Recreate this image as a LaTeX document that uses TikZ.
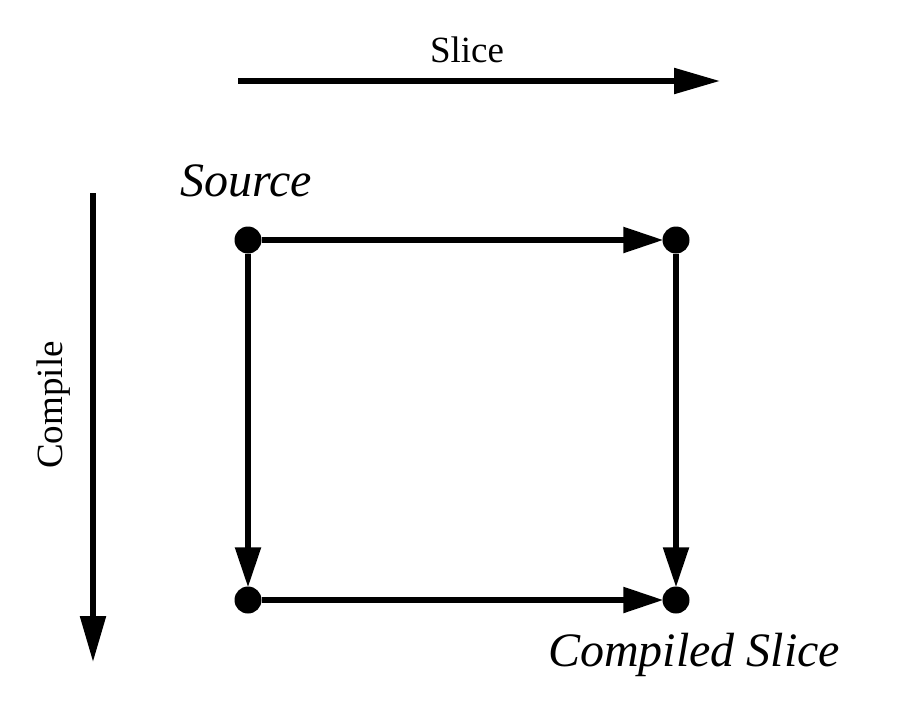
\documentclass[tikz,border=0pt]{standalone}
\usepackage{fontspec}
\setmainfont{Liberation Serif}
\usetikzlibrary{arrows.meta}
\begin{document}
\begin{tikzpicture}[x=1pt,y=-1pt,
  dot/.style={circle,fill=black,minimum size=27pt,inner sep=0pt},
  bigarrow/.style={line width=5.5pt,-{Triangle[length=46pt,width=25pt]}},
  innerarrow/.style={line width=5.5pt,-{Triangle[length=40pt,width=25pt]},shorten >=-1pt},
  uplabel/.style={font=\fontsize{37}{40}\selectfont},
  itlabel/.style={font=\fontsize{48}{52}\selectfont\itshape}]
\useasboundingbox (0,0) rectangle (904,720);
% axes
\coordinate (sa) at (238,81);
\coordinate (sb) at (720,81);
\draw[bigarrow] (sa) -- (sb);
\node[uplabel] (slicelbl) at (467,50) {Slice};
\coordinate (ca) at (93,193);
\coordinate (cb) at (93,662);
\draw[bigarrow] (ca) -- (cb);
\node[uplabel,rotate=90] (compilelbl) at (54,405) {Compile};
% square
\node[dot] (tl) at (248,240) {};
\node[dot] (tr) at (676,240) {};
\node[dot] (bl) at (248,600) {};
\node[dot] (br) at (676,600) {};
\draw[innerarrow] (tl) -- (tr);
\draw[innerarrow] (bl) -- (br);
\draw[innerarrow] (tl) -- (bl);
\draw[innerarrow] (tr) -- (br);
\node[itlabel] (src) at (246,181) {Source};
\node[itlabel] (cs) at (694,655) {Compiled Slice};
\end{tikzpicture}
\end{document}
